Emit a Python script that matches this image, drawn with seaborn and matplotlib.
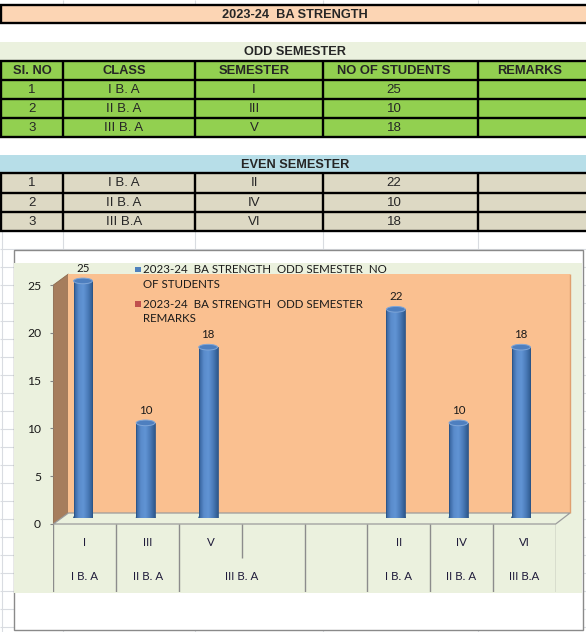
import numpy as np
import pandas as pd
import matplotlib
matplotlib.use("Agg")
import matplotlib.pyplot as plt
import seaborn as sns
from matplotlib.patches import Rectangle, Polygon, Ellipse
from matplotlib.colors import LinearSegmentedColormap

W, H = 586, 632

# --- sheet contents ---
title = "2023-24  BA STRENGTH"
odd_title = "ODD SEMESTER"
even_title = "EVEN SEMESTER"
headers = ["SI. NO", "CLASS", "SEMESTER", "NO OF STUDENTS", "REMARKS"]
sl_no = ["1", "2", "3"]
odd_class = ["I B. A", "II B. A", "III B. A"]
odd_sem = ["I", "III", "V"]
odd_students = [25, 10, 18]
even_class = ["I B. A", "II B. A", "III B.A"]
even_sem = ["II", "IV", "VI"]
even_students = [22, 10, 18]
remarks = ["", "", ""]

# the chart range also picked up the blank row and the EVEN SEMESTER row
chart_sem = odd_sem + ["", ""] + even_sem
chart_students = odd_students + [np.nan, np.nan] + even_students
chart_class = ["I B. A", "II B. A", "III B. A", "", "I B. A", "II B. A", "III B.A"]
chart_class_span = [1, 1, 2, 1, 1, 1, 1]
value_ticks = [0, 5, 10, 15, 20, 25]
legend_lines = [["2023-24  BA STRENGTH  ODD SEMESTER  NO", "OF STUDENTS"],
                ["2023-24  BA STRENGTH  ODD SEMESTER", "REMARKS"]]
series_colors = ["#4F81BD", "#C0504D"]

# --- layout (pixels, y down) ---
col_edges = [1, 63, 195, 323, 478]
col_text_x = [32, 124, 254, 394, 530]
odd_edges = [61, 80, 99, 117.5, 137]
even_edges = [173, 193, 212, 231]

# Excel chart text is Calibri; Lato is the nearest installed face
chart_font = ["Lato", "DejaVu Sans"]
chart_fs = 8.3


def px_box(x0, y0, x1, y1):
    return [x0 / W, 1 - y1 / H, (x1 - x0) / W, (y1 - y0) / H]


def band(ax, y0, y1, fill, text=None):
    ax.add_patch(Rectangle((0, y0), W, y1 - y0, facecolor=fill, edgecolor="none", zorder=1))
    if text:
        ax.text(295, (y0 + y1) / 2 + 0.5, text, ha="center", va="center",
                fontsize=9.2, fontweight="bold", zorder=3)


def table_block(ax, edges, rows, fill, bold_first=False):
    for i, cells in enumerate(rows):
        y0, y1 = edges[i], edges[i + 1]
        ax.add_patch(Rectangle((0, y0), W, y1 - y0, facecolor=fill, edgecolor="none", zorder=1))
        bold = bold_first and i == 0
        for x, txt in zip(col_text_x, cells):
            ax.text(x, (y0 + y1) / 2 + 0.5, txt, ha="center", va="center",
                    fontsize=9.3 if bold else 9.5, fontweight="bold" if bold else "normal", zorder=3)
    ax.hlines(edges, 0, W, color="black", lw=1.7, zorder=2)
    ax.vlines(col_edges, edges[0], edges[-1], color="black", lw=1.7, zorder=2)


sns.set_style("white")
plt.rcParams["font.family"] = ["Liberation Sans", "DejaVu Sans"]

fig = plt.figure(figsize=(W / 100, H / 100), dpi=100)
fig.patch.set_facecolor("white")

ax_bg = fig.add_axes([0, 0, 1, 1])
ax_bg.set_xlim(0, W)
ax_bg.set_ylim(H, 0)
ax_bg.set_axis_off()

# faint spreadsheet grid
grid_c = "#D9DCE1"
ax_bg.vlines(col_edges[1:], 0, 5, color=grid_c, lw=0.8, zorder=0)
ax_bg.vlines(col_edges[1:], 231, H, color=grid_c, lw=0.8, zorder=0)
ax_bg.vlines([1.5], 231, H, color=grid_c, lw=0.8, zorder=0)
ax_bg.hlines(np.arange(249, H, 18), 0, W, color=grid_c, lw=0.8, zorder=0)

# title + tables
band(ax_bg, 5, 23, "#FCD5B4", title)
ax_bg.hlines([5, 23], 0, W, color="black", lw=1.7, zorder=2)
ax_bg.vlines([1], 5, 23, color="black", lw=1.7, zorder=2)
band(ax_bg, 42, 61, "#EBF1DE", odd_title)
odd_rows = [headers] + [list(r) for r in zip(sl_no, odd_class, odd_sem, map(str, odd_students), remarks)]
table_block(ax_bg, odd_edges, odd_rows, "#92D050", bold_first=True)
band(ax_bg, 155, 173, "#B7DEE8", even_title)
even_rows = [list(r) for r in zip(sl_no, even_class, even_sem, map(str, even_students), remarks)]
table_block(ax_bg, even_edges, even_rows, "#DDD9C4")

# chart frame, plot area and 3D walls
ax_bg.add_patch(Rectangle((13.5, 250), 569.5, 380, facecolor="white", edgecolor="#8A8A8A", lw=1, zorder=4))
ax_bg.add_patch(Rectangle((14, 263), 568, 329.5, facecolor="#EBF1DE", edgecolor="none", zorder=4))
ax_bg.add_patch(Polygon([(53.4, 285), (68.4, 274), (68.4, 513), (53.4, 524)], closed=True,
                        facecolor="#A67D5D", edgecolor="#8C6A4E", lw=0.6, zorder=5))
ax_bg.add_patch(Rectangle((68.4, 274), 501.6, 239, facecolor="#FAC090", edgecolor="none", zorder=5))
ax_bg.vlines([569.6], 274, 513, color="#E0A070", lw=1, zorder=5)
ax_bg.add_patch(Polygon([(53.4, 524), (68.4, 513), (570, 513), (555.7, 524)], closed=True,
                        facecolor="#EBF1DE", edgecolor="#9C9C9C", lw=0.9, zorder=5))

# legend
for k, lines in enumerate(legend_lines):
    y0 = 269.5 + 34.5 * k
    ax_bg.add_patch(Rectangle((135, y0 - 2.8), 5.7, 5.7, facecolor=series_colors[k], edgecolor="none", zorder=6))
    for j, line in enumerate(lines):
        ax_bg.text(143.3, y0 + 15 * j, line, ha="left", va="center", fontsize=chart_fs,
                   family=chart_font, color="#1A1A1A", zorder=6)

# value axis
ax_val = fig.add_axes(px_box(53.4, 285, 60, 524))
ax_val.patch.set_visible(False)
ax_val.set_ylim(0, 25)
ax_val.set_yticks(value_ticks)
ax_val.set_xticks([])
for s in ax_val.spines.values():
    s.set_visible(False)
ax_val.tick_params(axis="y", left=True, length=2.2, width=0.8, color="#868686",
                   pad=6.7, labelsize=chart_fs + 0.4, labelcolor="#1A1A1A")
for lbl in ax_val.get_yticklabels():
    lbl.set_family(chart_font)

# category axis (two levels)
ax_cat = fig.add_axes(px_box(53.4, 524, 555.7, 592))
ax_cat.patch.set_visible(False)
ax_cat.set_xlim(-0.5, len(chart_sem) - 0.5)
ax_cat.set_ylim(592, 524)
ax_cat.set_axis_off()
outer = np.cumsum([0] + chart_class_span)
bounds = np.arange(len(chart_sem) + 1)
ends = [592 if b in outer else 558 for b in bounds]
ax_cat.vlines(bounds - 0.5, 524, ends, color="#8C8C8C", lw=1)
lab_c = "#1F1B3A"
for i, s in enumerate(chart_sem):
    ax_cat.text(i, 543, s, ha="center", va="center", fontsize=chart_fs, family=chart_font, color=lab_c)
for k, s in enumerate(chart_class):
    mid = (outer[k] + outer[k + 1]) / 2 - 0.5
    ax_cat.text(mid, 576, s, ha="center", va="center", fontsize=chart_fs, family=chart_font, color=lab_c)

# cylinders
ax_chart = fig.add_axes(px_box(51.7, 262, 552.3, 517.5))
ax_chart.patch.set_visible(False)
df = pd.DataFrame({"slot": range(len(chart_students)), "students": chart_students}).dropna()
bar_w = 0.3
sns.barplot(data=df, x="slot", y="students", order=list(range(len(chart_students))),
            color=series_colors[0], saturation=1, width=bar_w, errorbar=None,
            edgecolor="#2B5487", linewidth=0.6, ax=ax_chart)
ax_chart.bar_label(ax_chart.containers[0], fmt="%g", padding=5, fontsize=chart_fs,
                   family=chart_font, color="#1A1A1A")

cyl_cmap = LinearSegmentedColormap.from_list(
    "cyl", ["#33609A", "#5A8BCB", "#6194D4", "#4A7BB9", "#2F5A8E"])
grad = np.linspace(0, 1, 64).reshape(1, -1)
ell_h = 0.6
bars = list(ax_chart.containers[0])
for bar in bars:
    x0, w, h = bar.get_x(), bar.get_width(), bar.get_height()
    cx = x0 + w / 2
    ax_chart.add_patch(Ellipse((cx, 0), w, ell_h, facecolor="#3A67A2", edgecolor="#2B5487", lw=0.6, zorder=1))
    im = ax_chart.imshow(grad, extent=[x0, x0 + w, 0, h], aspect="auto", cmap=cyl_cmap,
                         interpolation="bilinear", zorder=2.5)
    im.set_clip_path(bar)
    bar.set_facecolor("none")
    bar.set_zorder(2.6)
    ax_chart.add_patch(Ellipse((cx, h), w, ell_h, facecolor="#4E7FBF", edgecolor="#7FA6D8", lw=0.7, zorder=3))

ax_chart.set_xlim(-0.5, len(chart_students) - 0.5)
ax_chart.set_ylim(0, 27)
ax_chart.set_axis_off()

fig.savefig("out.png", dpi=100)
